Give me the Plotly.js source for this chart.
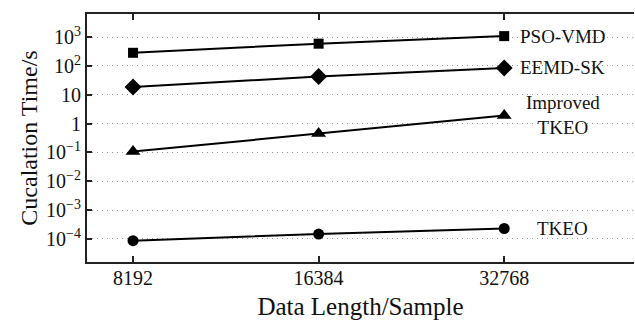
<!DOCTYPE html>
<html>
<head>
<meta charset="utf-8">
<script src="https://cdn.plot.ly/plotly-3.0.1.min.js"></script>
<style>html,body{margin:0;padding:0;background:#fff;}#chart{width:635px;height:320px;}</style>
</head>
<body>
<div id="chart"></div>
<script>
const dataLength = [8192, 16384, 32768];
const psoVmd = [285, 590, 1080];
const eemdSk = [18.5, 43, 85];
const improvedTkeo = [0.107, 0.45, 1.9];
const tkeo = [0.000087, 0.000148, 0.00023];
const yTickVals = [1e3, 1e2, 10, 1, 1e-1, 1e-2, 1e-3, 1e-4];
const yTickText = ["10<sup>3</sup>", "10<sup>2</sup>", "10", "1", "10<sup>\u22121</sup>", "10<sup>\u22122</sup>", "10<sup>\u22123</sup>", "10<sup>\u22124</sup>"];
const seriesNames = ["PSO-VMD", "EEMD-SK", "Improved<br>TKEO", "TKEO"];
const labelY = [1080, 85, 1.97, 0.000224];

const font = "Liberation Serif";
function tr(y, sym, size) {
  return {x: dataLength, y: y, type: 'scatter', mode: 'lines+markers',
    line: {color: '#000', width: 2},
    marker: {symbol: sym, size: size, color: '#000'},
    showlegend: false, cliponaxis: false};
}
const traces = [
  tr(psoVmd, 'square', 10),
  tr(eemdSk, 'diamond', 13),
  tr(improvedTkeo, 'triangle-up', 13),
  tr(tkeo, 'circle', 11)
];
const annY = [Math.log10(labelY[0]), Math.log10(labelY[1]), 0.295, -3.65];
const annotations = seriesNames.map((n, i) => ({
  text: n, xref: 'paper', yref: 'y', x: 0.87, y: annY[i],
  showarrow: false, xanchor: 'center', yanchor: 'middle',
  font: {family: font, size: 19, color: '#111'}, bgcolor: 'rgba(0,0,0,0)'
}));
const layout = {
  width: 635, height: 320,
  margin: {l: 87, r: 1, t: 14, b: 58},
  paper_bgcolor: '#fff', plot_bgcolor: '#fff',
  font: {family: font, color: '#111', size: 20},
  xaxis: {
    type: 'log', range: [3.8387, 4.726],
    tickvals: dataLength, ticktext: dataLength.map(String),
    ticks: 'inside', ticklen: 6, tickwidth: 2, tickcolor: '#222',
    showline: true, linewidth: 2, linecolor: '#222', mirror: 'ticks',
    showgrid: false, zeroline: false, ticklabelstandoff: -3,
    tickfont: {family: font, size: 20, color: '#111'},
    title: {text: 'Data Length/Sample', font: {family: font, size: 25, color: '#111'}, standoff: 9}
  },
  yaxis: {
    type: 'log', range: [-4.8, 3.8],
    tickvals: yTickVals, ticktext: yTickText,
    ticks: 'inside', ticklen: 5, tickwidth: 2, tickcolor: '#222',
    showline: true, linewidth: 2, linecolor: '#222', mirror: false,
    showgrid: true, gridcolor: '#999', gridwidth: 1, griddash: '1px,4px',
    zeroline: false,
    tickfont: {family: font, size: 20, color: '#111'},
    title: {text: 'Cucalation Time/s', font: {family: font, size: 24, color: '#111'}, standoff: 2}
  },
  annotations: annotations
};
Plotly.newPlot('chart', traces, layout, {displayModeBar: false, staticPlot: true});
</script>
</body>
</html>
